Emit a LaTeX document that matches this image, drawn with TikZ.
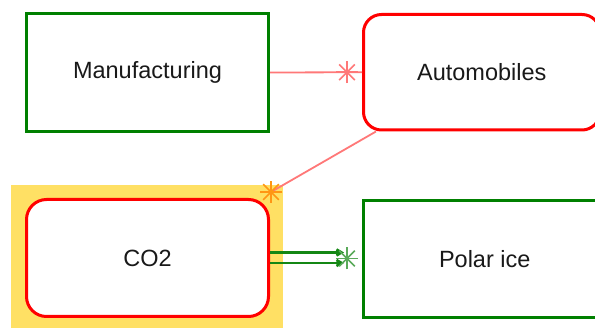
\documentclass[tikz,border=0pt]{standalone}
\usepackage{fontspec}
\setmainfont{Liberation Sans}
\usetikzlibrary{arrows.meta,calc}
\definecolor{boxgreen}{RGB}{0,128,0}
\definecolor{boxred}{RGB}{255,0,0}
\definecolor{linkred}{RGB}{255,120,120}
\definecolor{starorange}{RGB}{255,150,20}
\definecolor{hlyellow}{RGB}{255,224,100}
\definecolor{linkgreen}{RGB}{20,135,20}
\definecolor{stargreen}{RGB}{90,170,90}
\tikzset{
  sqbox/.style={draw=boxgreen, line width=3pt, fill=white, font=\fontsize{23.5}{27}\selectfont, text=black!90},
  rdbox/.style={draw=boxred, line width=3pt, rounded corners=20pt, fill=white, font=\fontsize{23.5}{27}\selectfont, text=black!90},
  hlbox/.style={fill=hlyellow, draw=none},
  redlink/.style={draw=linkred, line width=1.8pt},
  greenlink/.style={draw=linkgreen, line width=2.6pt, -{Straight Barb[length=5pt,width=6pt]}},
}
\newcommand{\astmark}[3]{% center, color, radius
  \foreach \ang in {0,45,90,135}{
    \draw[#2, line width=1.5pt] (#1) ++(\ang:#3) -- ++(\ang+180:2*#3);
  }
}
\begin{document}
\begin{tikzpicture}[x=1pt,y=-1pt]
\useasboundingbox (0,0) rectangle (595,328);
\fill[white] (0,0) rectangle (595,328);
\clip (0,0) rectangle (595,328);
% highlight behind CO2
\node[hlbox, minimum width=272pt, minimum height=150pt, inner sep=0pt, anchor=north west] (hl) at (11,185) {};
% boxes
\node[sqbox, minimum width=242pt, minimum height=118pt] (mf) at (147.5,72.5) {Manufacturing};
\node[rdbox, minimum width=236.5pt, minimum height=115.5pt, rounded corners=18pt] (auto) at (481.75,72.25) {Automobiles};
\node[rdbox, minimum width=242pt, minimum height=117pt] (co2) at (147.5,258) {CO2};
\node[sqbox, minimum width=242.5pt, minimum height=117pt] (ice) at (484.75,259) {Polar ice};
% connector Manufacturing -> Automobiles
\path[redlink] (mf.east) -- (auto.west);
\coordinate (s1) at ($(auto.west)+(-15,0)$);
% connector Automobiles -> CO2
\coordinate (a2) at (376,131.5);
\coordinate (s2) at (271,192);
\path[redlink] (a2) -- (s2);
% green connectors CO2 -> Polar ice
\coordinate (g1s) at (co2.east |- 0,252.5);
\coordinate (g2s) at (co2.east |- 0,263);
\coordinate (g1e) at (344,252.5);
\coordinate (g2e) at (344,263);
\path[greenlink] (g1s) -- (g1e);
\path[greenlink] (g2s) -- (g2e);
\coordinate (s3) at (347,258.5);
% asterisks
\astmark{s1}{linkred}{11}
\astmark{s2}{starorange}{11}
\astmark{s3}{stargreen}{11}
\end{tikzpicture}
\end{document}
